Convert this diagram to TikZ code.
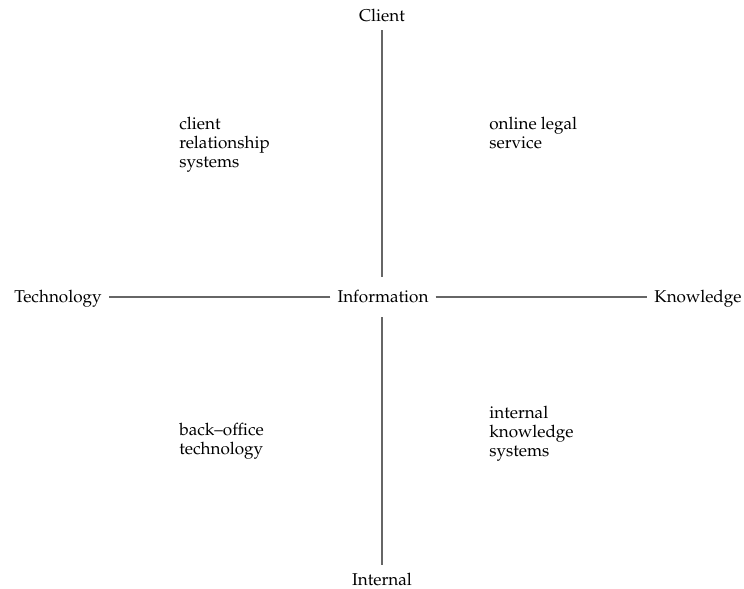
\documentclass[tikz,border=0pt]{standalone}
\usepackage[T1]{fontenc}
\usepackage{mathpazo}
\usepackage{tikz}
\usetikzlibrary{positioning}

\begin{document}
\begin{tikzpicture}[x=0.585pt,y=-0.585pt,
axis/.style={inner sep=4pt},
quad/.style={anchor=north west,inner sep=0pt,align=left,
  font=\fontsize{10}{11.1}\selectfont},
every edge/.style={draw=black!60,line width=0.6pt}]
\useasboundingbox (0,0) rectangle (744,589);
\node[axis,anchor=base,inner ysep=8pt] (info) at (383,303) {Information};
\node[axis,anchor=base] (tech) at (58,303) {Technology};
\node[axis,anchor=base] (know) at (698,303) {Knowledge};
\node[axis,anchor=base] (client) at (382,22) {Client};
\node[axis,anchor=base] (intern) at (382,585) {Internal};
\path (info.west) edge (info.west -| tech.east)
  (info.east) edge (info.east -| know.west)
  (info.north -| client.south) edge (client.south)
  (info.south -| intern.north) edge (intern.north);
\node[quad] (crs) at (179,117) {client\\relationship\\systems};
\node[quad] (ols) at (489,117) {online legal\\service};
\node[quad] (bot) at (179,423) {back--office\\technology};
\node[quad] (iks) at (489,406) {internal\\knowledge\\systems};
\end{tikzpicture}
\end{document}
